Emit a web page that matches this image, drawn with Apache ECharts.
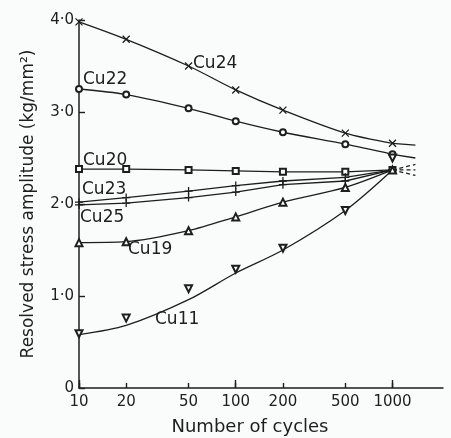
<!DOCTYPE html>
<html>
<head>
<meta charset="utf-8">
<script src="https://cdn.jsdelivr.net/npm/echarts@6/dist/echarts.min.js"></script>
<style>
    html, body { margin: 0; padding: 0; background: #fafbfb; }
    #chart { width: 451px; height: 438px; }
</style>
</head>
<body>
<div id="chart"></div>
<script>
    // cycles at which each alloy was measured
    var cycles = [10, 20, 50, 100, 200, 500, 1000];
    var cu24 = [3.98, 3.79, 3.50, 3.24, 3.02, 2.77, 2.66];
    var cu22 = [3.25, 3.19, 3.04, 2.90, 2.78, 2.65, 2.54];
    var cu20 = [2.38, 2.38, 2.37, 2.36, 2.35, 2.35, 2.37];
    var cu23 = [2.02, 2.07, 2.14, 2.20, 2.25, 2.29, 2.37];
    var cu25 = [1.99, 2.01, 2.07, 2.13, 2.21, 2.25, 2.37];
    var cu19 = [1.58, 1.59, 1.71, 1.86, 2.02, 2.18, 2.37];
    var cu11Points = [0.59, 0.76, 1.08, 1.29, 1.52, 1.93, 2.50];
    var cu11Curve = [0.58, 0.68, 0.96, 1.25, 1.50, 1.93, 2.37];

    // short continuations past 1000 cycles
    var tailX = [1000, 1400];
    var cu24Tail = [2.66, 2.64];
    var cu22Tail = [2.54, 2.50];
    var dashUpper = [2.37, 2.43];
    var dashMiddle = [2.37, 2.37];
    var dashLower = [2.37, 2.31];

    // axis ticks
    var xTickValues = [10, 20, 50, 100, 200, 500, 1000];
    var xTickLabels = ['10', '20', '50', '100', '200', '500', '1000'];
    var xMajorTicks = [10, 100, 1000];
    var yTickValues = [0, 1, 2, 3, 4];
    var yTickLabels = ['0', '1·0', '2·0', '3·0', '4·0'];

    var INK = '#1e1e1e';
    var FONT = 'DejaVu Sans';
    var SYM_X = 'path://M0,0L10,10M10,0L0,10';
    var SYM_PLUS = 'path://M5,0L5,10M0,5L10,5';

    function pairs(xs, ys) {
        return ys.map(function (y, i) { return [xs[i], y]; });
    }

    function curve(name, ys, symbol, size, smooth) {
        return {
            name: name,
            type: 'line',
            data: pairs(cycles, ys),
            smooth: smooth,
            symbol: symbol,
            symbolSize: size,
            showAllSymbol: true,
            lineStyle: { color: INK, width: 1.3 },
            itemStyle: { color: INK, borderColor: INK, borderWidth: 1.3 },
            z: 3
        };
    }

    function tail(ys, dashed) {
        return {
            type: 'line',
            data: pairs(tailX, ys),
            symbol: 'none',
            lineStyle: { color: INK, width: 1.3, type: dashed ? [4, 3] : 'solid' },
            z: 2
        };
    }

    var series = [
        curve('Cu24', cu24, SYM_X, 7, 0.3),
        curve('Cu22', cu22, 'emptyCircle', 6, 0.3),
        curve('Cu20', cu20, 'emptyRect', 6, false),
        curve('Cu23', cu23, SYM_PLUS, 8, false),
        curve('Cu25', cu25, SYM_PLUS, 8, false),
        curve('Cu19', cu19, 'emptyTriangle', 7, 0.3),
        curve('Cu11', cu11Curve, 'none', 0, 0.3),
        {
            name: 'Cu11 points',
            type: 'scatter',
            data: pairs(cycles, cu11Points),
            symbol: 'emptyTriangle',
            symbolRotate: 180,
            symbolSize: 7,
            itemStyle: { color: INK, borderColor: INK, borderWidth: 1.4, opacity: 1 },
            z: 3
        },
        tail(cu24Tail, false),
        tail(cu22Tail, false),
        tail(dashUpper, true),
        tail(dashMiddle, true),
        tail(dashLower, true)
    ];

    var labelStyle = { fontFamily: FONT, fontSize: 17, fill: INK };
    function curveLabel(text, x, y) {
        return { type: 'text', x: x, y: y, style: Object.assign({ text: text }, labelStyle) };
    }

    var logAxis = {
        type: 'log',
        logBase: 10,
        min: 10,
        max: 2100,
        splitLine: { show: false },
        minorTick: { show: false }
    };

    var chart = echarts.init(document.getElementById('chart'));
    chart.setOption({
        backgroundColor: '#fafbfb',
        animation: false,
        grid: { left: 79, right: 8, top: 20, bottom: 50 },
        xAxis: [
            Object.assign({}, logAxis, {
                axisLine: { lineStyle: { color: INK, width: 1.5 } },
                axisTick: { show: true, inside: true, length: 5, customValues: xTickValues,
                    lineStyle: { color: INK, width: 1.4 } },
                axisLabel: {
                    customValues: xTickValues,
                    color: INK,
                    fontFamily: FONT,
                    fontSize: 15,
                    margin: 7,
                    formatter: function (v) { return xTickLabels[xTickValues.indexOf(Math.round(v))]; }
                }
            }),
            // second copy of the axis only carries the longer decade ticks
            Object.assign({}, logAxis, {
                position: 'bottom',
                axisLine: { show: false },
                axisTick: { show: true, inside: true, length: 8, customValues: xMajorTicks,
                    lineStyle: { color: INK, width: 1.4 } },
                axisLabel: { show: false }
            })
        ],
        yAxis: {
            type: 'value',
            min: 0,
            max: 4,
            interval: 1,
            name: 'Resolved stress amplitude (kg/mm²)',
            nameLocation: 'middle',
            nameGap: 42,
            nameRotate: 90,
            nameTextStyle: { color: INK, fontFamily: FONT, fontSize: 17 },
            axisLine: { show: true, lineStyle: { color: INK, width: 1.5 } },
            axisTick: { show: true, inside: true, length: 6, lineStyle: { color: INK, width: 1.4 } },
            axisLabel: {
                color: INK,
                fontFamily: FONT,
                fontSize: 15,
                margin: 5,
                formatter: function (v) { return yTickLabels[yTickValues.indexOf(v)]; }
            },
            splitLine: { show: false }
        },
        graphic: [
            curveLabel('Cu24', 193, 55),
            curveLabel('Cu22', 83, 71),
            curveLabel('Cu20', 83, 152),
            curveLabel('Cu23', 82, 181),
            curveLabel('Cu25', 80, 209),
            curveLabel('Cu19', 128, 241),
            curveLabel('Cu11', 155, 311),
            {
                type: 'text',
                x: 250,
                y: 418,
                style: { text: 'Number of cycles', fontFamily: FONT, fontSize: 18, fill: INK, align: 'center' }
            }
        ],
        series: series
    });
</script>
</body>
</html>
